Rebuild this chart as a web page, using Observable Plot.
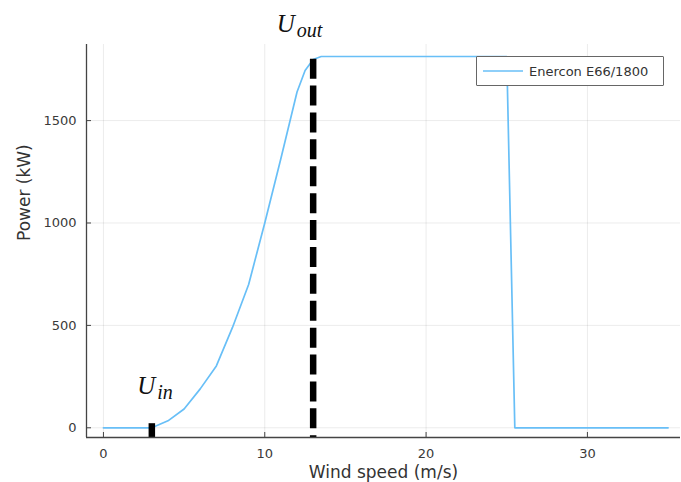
<!DOCTYPE html>
<html>
<head>
<meta charset="utf-8">
<script src="https://cdn.jsdelivr.net/npm/d3@7"></script>
<script src="https://cdn.jsdelivr.net/npm/@observablehq/plot@0.6"></script>
<style>
  body { margin: 0; background: #fff; }
  #wrap { position: relative; width: 681px; height: 482px; }
  #legend {
    position: absolute; left: 476px; top: 56px; width: 186px; height: 28px;
    border: 1px solid #666; border-radius: 1px; background: #fff;
    font: 13px "DejaVu Sans", sans-serif; color: #333;
    display: flex; align-items: center; box-sizing: content-box;
  }
  #legend svg { margin-left: 6px; margin-right: 6px; }
</style>
</head>
<body>
<div id="wrap"></div>
<script>
// ---- data ----
const windSpeed = [0, 1, 2, 3, 4, 5, 6, 7, 8, 9, 10, 11, 12, 12.5, 13, 13.5, 14, 15, 16, 17, 18, 19, 20,
                   21, 22, 23, 24, 25, 25.5, 26, 27, 28, 29, 30, 31, 32, 33, 34, 35];
const power     = [0, 0, 0, 0, 34, 92, 190, 302, 490, 700, 1000, 1315, 1640, 1745, 1798, 1813, 1813, 1813, 1813, 1813, 1813, 1813, 1813,
                   1813, 1813, 1813, 1813, 1813, 0, 0, 0, 0, 0, 0, 0, 0, 0, 0, 0];
const seriesName = "Enercon E66/1800";
const xTicks = [0, 10, 20, 30];
const yTicks = [0, 500, 1000, 1500];
const thresholdSpeed = [3, 13];
const thresholdTop = [20, 1800];
const labelBase = ["U", "U"];
const labelSub = ["in", "out"];
const labelSpeed = [2.1, 10.75];
const labelPower = [166, 1932];
const xDomain = [-1.05, 35.77];
const yDomain = [-47.4, 1871.6];

const curve = windSpeed.map((w, i) => ({w, p: power[i]}));
const thresholds = thresholdSpeed.map((w, i) => ({w, top: thresholdTop[i]}));
const annots = labelBase.map((b, i) => ({b, s: labelSub[i], w: labelSpeed[i], p: labelPower[i]}));
const lineColor = "#68bff7";

const chart = Plot.plot({
  width: 681,
  height: 482,
  marginLeft: 86,
  marginRight: 1,
  marginTop: 44,
  marginBottom: 45,
  style: {fontFamily: "DejaVu Sans", fontSize: "13px", background: "#fff", overflow: "visible"},
  x: {domain: xDomain, label: null},
  y: {domain: yDomain, label: null},
  marks: [
    Plot.gridX(xTicks, {stroke: "#000", strokeOpacity: 0.08}),
    Plot.gridY(yTicks, {stroke: "#000", strokeOpacity: 0.08}),
    Plot.line(curve, {x: "w", y: "p", stroke: lineColor, strokeWidth: 1.7}),
    Plot.ruleX(thresholds, {x: "w", y1: "top", y2: () => yDomain[0], stroke: "#000", strokeWidth: 6.5, strokeDasharray: "20,6.9"}),
    Plot.ruleX([xDomain[0]], {stroke: "#444", strokeWidth: 1.3}),
    Plot.ruleY([yDomain[0]], {stroke: "#444", strokeWidth: 1.3}),
    Plot.axisX(xTicks, {tickSize: -5, tickPadding: 16, stroke: "#444", fill: "#3a3a3a", label: null, tickFormat: d3.format("d")}),
    Plot.axisY(yTicks, {tickSize: -5, tickPadding: 15, stroke: "#444", fill: "#3a3a3a", label: null, tickFormat: d3.format("d")}),
    Plot.text(annots, {x: "w", y: "p", text: "b", textAnchor: "start", lineAnchor: "bottom",
      fontFamily: "Liberation Serif", fontStyle: "italic", fontSize: 25, fill: "#111"}),
    Plot.text(annots, {x: "w", y: "p", text: "s", textAnchor: "start", lineAnchor: "bottom", dx: 20, dy: 5,
      fontFamily: "Liberation Serif", fontStyle: "italic", fontSize: 20, fill: "#111"}),
    Plot.text(["Wind speed (m/s)"], {text: d => d, frameAnchor: "bottom", dy: 40, lineAnchor: "bottom",
      fontSize: 17, fill: "#333"}),
    Plot.text(["Power (kW)"], {text: d => d, frameAnchor: "left", dx: -62, rotate: -90,
      fontSize: 17, fill: "#333"})
  ]
});

const wrap = document.getElementById("wrap");
wrap.appendChild(chart);

const legend = document.createElement("div");
legend.id = "legend";
legend.innerHTML = `<svg width="40" height="4"><line x1="0" y1="2" x2="40" y2="2" stroke="${lineColor}" stroke-width="1.6"/></svg><span>${seriesName}</span>`;
wrap.appendChild(legend);
</script>
</body>
</html>
